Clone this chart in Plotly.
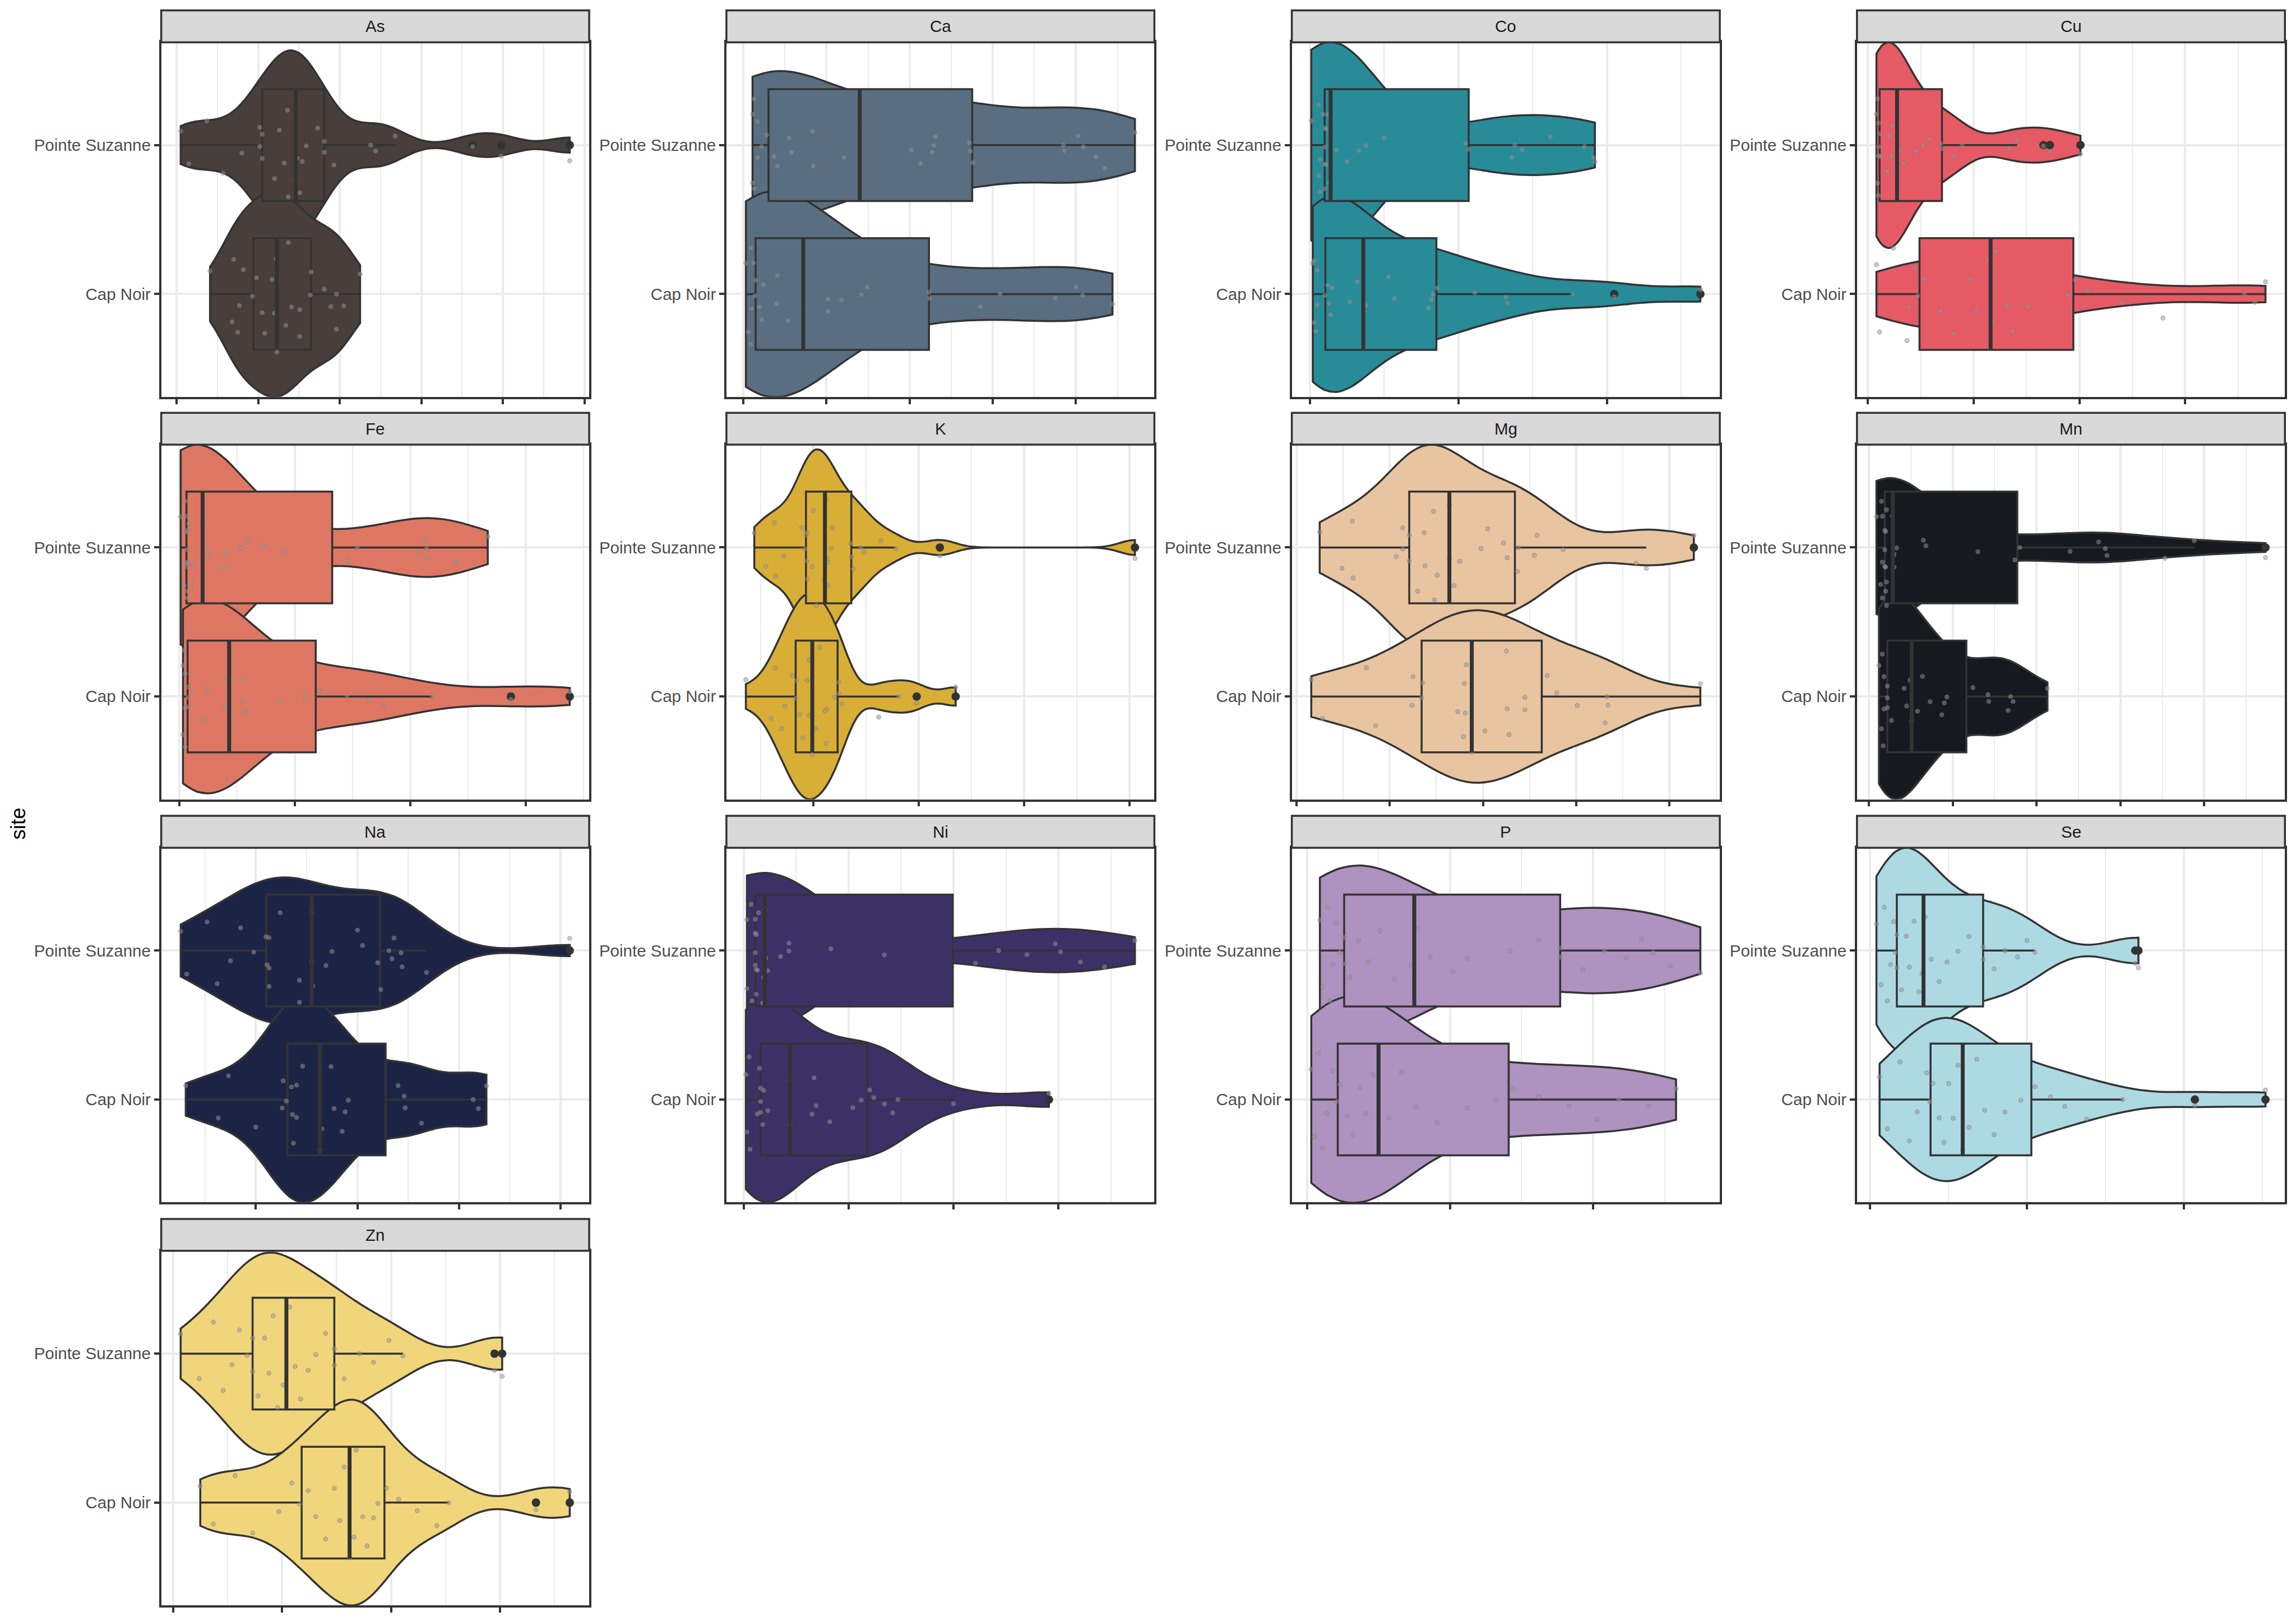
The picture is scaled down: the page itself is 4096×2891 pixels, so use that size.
import numpy as np
import plotly.graph_objects as go

# ---------------- data (arbitrary units; ticks at integers) -------------
elements = ["As", "Ca", "Co", "Cu", "Fe", "K", "Mg", "Mn", "Na", "Ni", "P", "Se", "Zn"]
site_labels = ["Cap Noir", "Pointe Suzanne"]

as_ps = [0.05, 0.15, 0.37, 0.57, 0.80, 1.02, 1.02, 1.05, 1.05, 1.20, 1.26, 1.32, 1.36, 1.37, 1.46, 1.46, 1.48, 1.51,
         1.54, 1.59, 1.73, 1.81, 1.81, 1.93, 2.38, 2.44, 2.68, 3.63, 3.98, 4.82]
as_cn = [0.41, 0.68, 0.70, 0.75, 0.77, 0.82, 0.93, 0.98, 1.05, 1.08, 1.17, 1.20, 1.22, 1.23, 1.34, 1.37, 1.41, 1.51,
         1.51, 1.64, 1.65, 1.81, 1.89, 1.96, 1.96, 2.05, 2.25]

ca_ps = [0.11, 0.11, 0.13, 0.13, 0.17, 0.17, 0.22, 0.28, 0.37, 0.41, 0.55, 0.58, 0.83, 0.84, 1.21, 1.40, 2.02, 2.13,
         2.27, 2.29, 2.31, 2.72, 2.73, 2.76, 3.85, 3.86, 4.03, 4.09, 4.24, 4.35, 4.71]
ca_cn = [0.03, 0.06, 0.09, 0.09, 0.10, 0.12, 0.14, 0.15, 0.19, 0.22, 0.24, 0.40, 0.41, 0.54, 0.72, 0.72, 1.02, 1.02,
         1.18, 1.42, 1.49, 2.23, 2.24, 2.85, 3.09, 3.75, 4.00, 4.08, 4.44]

co_ps = [0.01, 0.06, 0.06, 0.07, 0.07, 0.09, 0.10, 0.10, 0.10, 0.10, 0.11, 0.11, 0.12, 0.13, 0.14, 0.14, 0.18, 0.25,
         0.33, 0.38, 0.50, 1.05, 1.07, 1.36, 1.38, 1.43, 1.62, 1.85, 1.91, 1.92]
co_cn = [0.02, 0.03, 0.03, 0.04, 0.05, 0.05, 0.10, 0.12, 0.13, 0.14, 0.15, 0.27, 0.32, 0.36, 0.38, 0.53, 0.57, 0.80,
         0.82, 0.83, 0.86, 1.11, 1.32, 1.33, 1.77, 2.05, 2.63]

cu_ps = [0.08, 0.09, 0.09, 0.10, 0.10, 0.10, 0.10, 0.11, 0.12, 0.18, 0.20, 0.22, 0.23, 0.26, 0.27, 0.28, 0.30, 0.34,
         0.45, 0.52, 0.58, 0.69, 0.70, 0.81, 0.89, 1.33, 1.41, 1.66, 1.72, 2.01]
cu_cn = [0.08, 0.11, 0.24, 0.37, 0.39, 0.44, 0.47, 0.54, 0.69, 0.81, 0.97, 1.02, 1.14, 1.16, 1.18, 1.21, 1.31, 1.37,
         1.51, 1.89, 1.96, 2.08, 2.40, 2.79, 3.56, 3.66, 3.76]

fe_ps = [0.01, 0.04, 0.05, 0.05, 0.06, 0.06, 0.06, 0.06, 0.06, 0.07, 0.07, 0.07, 0.08, 0.10, 0.12, 0.20, 0.25, 0.38,
         0.40, 0.53, 0.60, 0.72, 0.91, 1.46, 1.54, 2.06, 2.13, 2.14, 2.15, 2.39, 2.67]
fe_cn = [0.03, 0.03, 0.04, 0.05, 0.05, 0.05, 0.07, 0.07, 0.07, 0.20, 0.24, 0.39, 0.41, 0.43, 0.44, 0.54, 0.55, 0.57,
         0.87, 1.09, 1.21, 1.45, 1.64, 1.77, 2.19, 2.87, 3.38]

k_ps = [0.44, 0.55, 0.63, 0.64, 0.72, 0.89, 0.92, 0.93, 0.94, 0.94, 0.94, 0.99, 1.00, 1.03, 1.10, 1.12, 1.13, 1.14,
        1.14, 1.17, 1.18, 1.35, 1.36, 1.38, 1.45, 1.48, 1.64, 1.78, 2.20, 4.05]
k_cn = [0.36, 0.60, 0.64, 0.70, 0.73, 0.80, 0.83, 0.84, 0.87, 0.90, 0.94, 0.96, 0.96, 0.99, 1.02, 1.06, 1.11, 1.12,
        1.13, 1.20, 1.24, 1.24, 1.27, 1.62, 1.81, 1.98, 2.35]

mg_ps = [0.25, 0.49, 0.60, 0.61, 1.07, 1.14, 1.14, 1.21, 1.21, 1.30, 1.37, 1.38, 1.47, 1.48, 1.51, 1.64, 1.64, 1.69,
         1.75, 1.98, 2.05, 2.22, 2.26, 2.37, 2.38, 2.55, 2.58, 2.86, 3.64, 3.75, 4.26]
mg_cn = [0.16, 0.28, 0.75, 0.85, 1.24, 1.25, 1.34, 1.35, 1.73, 1.79, 1.80, 1.81, 1.82, 1.88, 2.02, 2.25, 2.26, 2.28,
         2.45, 2.45, 2.69, 2.79, 3.01, 3.31, 3.33, 3.34, 4.33]

mn_ps = [0.09, 0.14, 0.15, 0.16, 0.16, 0.16, 0.19, 0.19, 0.19, 0.20, 0.20, 0.20, 0.21, 0.21, 0.21, 0.28, 0.29, 0.30,
         0.30, 0.33, 0.65, 0.68, 1.30, 1.74, 1.80, 2.40, 2.74, 2.82, 2.84, 3.53, 3.88, 4.73]
mn_cn = [0.12, 0.15, 0.16, 0.17, 0.18, 0.18, 0.22, 0.22, 0.22, 0.27, 0.42, 0.45, 0.49, 0.51, 0.58, 0.64, 0.73, 0.87,
         0.90, 0.93, 1.24, 1.42, 1.43, 1.66, 1.69, 1.72, 2.13]

na_ps = [0.26, 0.32, 0.52, 0.62, 0.75, 0.85, 0.98, 1.10, 1.11, 1.13, 1.13, 1.13, 1.24, 1.43, 1.43, 1.55, 1.55, 1.56,
         1.69, 1.75, 2.00, 2.05, 2.20, 2.23, 2.31, 2.34, 2.36, 2.43, 2.44, 2.68, 4.09]
na_cn = [0.31, 0.63, 0.73, 1.00, 1.26, 1.27, 1.30, 1.35, 1.36, 1.37, 1.40, 1.40, 1.46, 1.63, 1.65, 1.74, 1.77, 1.85,
         1.88, 1.91, 2.40, 2.46, 2.47, 2.63, 3.14, 3.19, 3.27]

ni_ps = [0.03, 0.03, 0.07, 0.08, 0.11, 0.11, 0.11, 0.11, 0.12, 0.12, 0.12, 0.13, 0.14, 0.18, 0.19, 0.20, 0.21, 0.23,
         0.35, 0.43, 0.43, 0.83, 1.34, 2.21, 2.43, 2.70, 2.97, 3.02, 3.21, 3.44, 3.73]
ni_cn = [0.02, 0.03, 0.05, 0.06, 0.13, 0.15, 0.16, 0.16, 0.16, 0.18, 0.19, 0.23, 0.44, 0.44, 0.65, 0.67, 0.69, 0.82,
         1.04, 1.12, 1.20, 1.24, 1.34, 1.42, 1.47, 2.00, 2.91]

p_ps = [0.09, 0.11, 0.14, 0.16, 0.18, 0.20, 0.23, 0.26, 0.26, 0.30, 0.36, 0.43, 0.51, 0.61, 0.73, 0.77, 0.86, 1.02,
        1.12, 1.42, 1.62, 1.77, 1.77, 1.93, 2.08, 2.23, 2.34, 2.42, 2.54, 2.75]
p_cn = [0.03, 0.05, 0.08, 0.11, 0.14, 0.18, 0.21, 0.23, 0.28, 0.32, 0.37, 0.41, 0.46, 0.50, 0.57, 0.66, 0.76, 0.91,
        1.12, 1.32, 1.44, 1.62, 1.83, 2.03, 2.18, 2.39, 2.58]

se_ps = [0.04, 0.07, 0.09, 0.11, 0.13, 0.15, 0.16, 0.17, 0.17, 0.20, 0.23, 0.25, 0.28, 0.31, 0.33, 0.35, 0.39, 0.44,
         0.49, 0.56, 0.63, 0.72, 0.72, 0.79, 0.86, 0.94, 1.00, 1.05, 1.69, 1.71]
se_cn = [0.06, 0.11, 0.19, 0.25, 0.30, 0.36, 0.38, 0.40, 0.44, 0.47, 0.50, 0.53, 0.56, 0.59, 0.63, 0.68, 0.73, 0.79,
         0.86, 0.96, 1.05, 1.15, 1.24, 1.38, 1.61, 2.07, 2.52]

zn_ps = [0.07, 0.24, 0.37, 0.46, 0.54, 0.61, 0.68, 0.73, 0.73, 0.78, 0.84, 0.88, 0.92, 0.96, 1.01, 1.07, 1.12, 1.17,
         1.24, 1.31, 1.40, 1.48, 1.48, 1.57, 1.71, 1.84, 1.98, 2.11, 2.95, 3.02]
zn_cn = [0.25, 0.37, 0.57, 0.73, 0.97, 1.09, 1.16, 1.24, 1.31, 1.40, 1.48, 1.53, 1.57, 1.62, 1.66, 1.68, 1.74, 1.78,
         1.84, 1.88, 1.96, 2.07, 2.24, 2.42, 2.53, 3.33, 3.64]

fill_colors = ["#483E3C", "#596E80", "#288B98", "#E65A65", "#DD7763", "#D8AE36", "#E8C4A0",
               "#16191F", "#1C2445", "#3C3166", "#AE92BF", "#ADD9E3", "#F0D57B"]

pointe_suzanne = [as_ps, ca_ps, co_ps, cu_ps, fe_ps, k_ps, mg_ps, mn_ps, na_ps, ni_ps, p_ps, se_ps, zn_ps]
cap_noir = [as_cn, ca_cn, co_cn, cu_cn, fe_cn, k_cn, mg_cn, mn_cn, na_cn, ni_cn, p_cn, se_cn, zn_cn]

# ---------------- layout geometry (pixels of the 4096x2891 page) ----------------
W, H = 4096, 2891
PANEL_W, PANEL_H = 763.5, 632.4
COL_LEFT = [287.6, 1295.9, 2304.6, 3312.8]
ROW_TOP = [75.4, 793.1, 1511.9, 2230.8]
STRIP_H = 56.9
DARK = "#333333"
GRID = "#EBEBEB"
LW = 3.5
FONT = "Liberation Sans, Arial, Helvetica, sans-serif"
VIOLIN_MAX_WIDTH = 1.38   # full width of the widest violin of a panel (category units)


def bw_nrd0(v):
    v = np.asarray(v, float)
    sd = v.std(ddof=1)
    q75, q25 = np.percentile(v, [75, 25])
    lo = min(sd, (q75 - q25) / 1.34)
    if lo <= 0:
        lo = sd if sd > 0 else 1.0
    return 0.9 * lo * len(v) ** -0.2


def kde_peak(v, bw):
    v = np.asarray(v, float)
    grid = np.linspace(v.min(), v.max(), 1024)
    dens = np.exp(-0.5 * ((grid[:, None] - v[None, :]) / bw) ** 2).sum(axis=1)
    return dens.max() / (len(v) * bw * np.sqrt(2 * np.pi))


fig = go.Figure()
shapes, annotations = [], []

for i, el in enumerate(elements):
    r, c = divmod(i, 4)
    sfx = "" if i == 0 else str(i + 1)
    xa, ya = "x" + sfx, "y" + sfx
    left, top = COL_LEFT[c], ROW_TOP[r]
    dx0, dx1 = left / W, (left + PANEL_W) / W
    dy1, dy0 = 1 - top / H, 1 - (top + PANEL_H) / H
    color = fill_colors[i]
    groups = [(2, np.asarray(pointe_suzanne[i], float)), (1, np.asarray(cap_noir[i], float))]

    allv = np.concatenate([g[1] for g in groups])
    lo, hi = allv.min(), allv.max()
    pad = 0.05 * (hi - lo)

    # ggplot "area" scaling: widths proportional to each group's density peak
    bws = [bw_nrd0(g[1]) for g in groups]
    peaks = [kde_peak(g[1], b) for g, b in zip(groups, bws)]
    pmax = max(peaks)

    for (pos, vals), bw, pk in zip(groups, bws, peaks):
        fig.add_trace(go.Violin(
            x=vals, y0=pos, orientation="h", xaxis=xa, yaxis=ya,
            width=VIOLIN_MAX_WIDTH * pk / pmax, scalemode="width", spanmode="hard",
            bandwidth=bw, points=False, box_visible=False, meanline_visible=False,
            fillcolor=color, line=dict(color=DARK, width=LW), opacity=1,
            hoverinfo="skip", showlegend=False))
        fig.add_trace(go.Box(
            x=vals, y0=pos, orientation="h", xaxis=xa, yaxis=ya, width=0.75,
            fillcolor=color, line=dict(color=DARK, width=LW), whiskerwidth=0,
            boxpoints="outliers", jitter=0, pointpos=0,
            marker=dict(color=DARK, size=15, line=dict(width=0)),
            hoverinfo="skip", showlegend=False))
        fig.add_trace(go.Box(
            x=vals, y0=pos, orientation="h", xaxis=xa, yaxis=ya, width=0.8,
            fillcolor="rgba(0,0,0,0)", line=dict(color="rgba(0,0,0,0)", width=0),
            whiskerwidth=0, boxpoints="all", jitter=1.0, pointpos=0,
            marker=dict(color="rgba(150,150,150,0.5)", size=7.5,
                        line=dict(color="rgba(125,125,125,0.55)", width=1.2)),
            hoverinfo="skip", showlegend=False))
        med = float(np.percentile(vals, 50))
        fig.add_trace(go.Scatter(
            x=[med, med], y=[pos - 0.375, pos + 0.375], mode="lines", xaxis=xa, yaxis=ya,
            line=dict(color=DARK, width=7), hoverinfo="skip", showlegend=False))

    fig.update_layout(**{
        "xaxis" + sfx: dict(
            domain=[dx0, dx1], anchor=ya, range=[lo - pad, hi + pad],
            tickmode="linear", tick0=0, dtick=1, ticks="outside", ticklen=9, tickwidth=LW,
            tickcolor=DARK, showticklabels=False, showgrid=True, gridcolor=GRID, gridwidth=LW,
            minor=dict(tick0=0, dtick=0.5, showgrid=True, gridcolor=GRID, gridwidth=1.8, ticks=""),
            zeroline=False, showline=True, mirror=True, linecolor=DARK, linewidth=LW),
        "yaxis" + sfx: dict(
            domain=[dy0, dy1], anchor=xa, range=[0.31, 2.69],
            tickmode="array", tickvals=[1, 2], ticktext=site_labels,
            ticks="outside", ticklen=9, tickwidth=LW, tickcolor=DARK,
            tickfont=dict(size=29.5, color="#4D4D4D", family=FONT), ticklabelstandoff=0,
            showgrid=True, gridcolor=GRID, gridwidth=LW,
            zeroline=False, showline=True, mirror=True, linecolor=DARK, linewidth=LW),
    })

    shapes.append(dict(type="rect", xref="paper", yref="paper",
                       x0=dx0, x1=dx1, y0=dy1, y1=1 - (top - STRIP_H) / H,
                       fillcolor="#D9D9D9", line=dict(color=DARK, width=LW)))
    annotations.append(dict(text=el, xref="paper", yref="paper", x=(dx0 + dx1) / 2,
                            y=1 - (top - STRIP_H / 2) / H, showarrow=False,
                            xanchor="center", yanchor="middle",
                            font=dict(size=29.5, color="#1A1A1A", family=FONT)))

annotations.append(dict(text="site", xref="paper", yref="paper", x=33 / W, y=1 - 1469.6 / H,
                        showarrow=False, textangle=-90, xanchor="center", yanchor="middle",
                        font=dict(size=36.8, color="black", family=FONT)))

fig.update_layout(
    width=W, height=H, autosize=False,
    margin=dict(l=0, r=0, t=0, b=0),
    paper_bgcolor="white", plot_bgcolor="white",
    violinmode="overlay", boxmode="overlay",
    font=dict(family=FONT),
    shapes=shapes, annotations=annotations, showlegend=False)

fig.write_html("out.html")
